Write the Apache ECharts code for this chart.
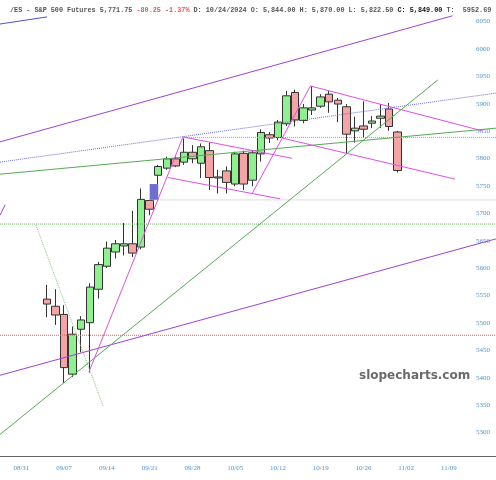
<!DOCTYPE html>
<html>
<head>
<meta charset="utf-8">
<script src="https://cdn.jsdelivr.net/npm/echarts@6/dist/echarts.min.js"></script>
<style>
html, body { margin: 0; padding: 0; background: #fff; }
#chart { width: 496px; height: 480px; }
</style>
</head>
<body>
<div id="chart"></div>
<script>
// trading-day slots on the x axis (weekdays)
var dates = [
    '08/28', '08/29', '08/30',
    '09/02', '09/03', '09/04', '09/05', '09/06', '09/09', '09/10', '09/11', '09/12', '09/13',
    '09/16', '09/17', '09/18', '09/19', '09/20', '09/23', '09/24', '09/25', '09/26', '09/27', '09/30',
    '10/01', '10/02', '10/03', '10/04', '10/07', '10/08', '10/09', '10/10', '10/11',
    '10/14', '10/15', '10/16', '10/17', '10/18', '10/21', '10/22', '10/23', '10/24', '10/25',
    '10/28', '10/29', '10/30', '10/31', '11/01',
    '11/04', '11/05', '11/06', '11/07', '11/08', '11/11', '11/12', '11/13', '11/14', '11/15'
];
// weekly labels, shown under each Friday slot
var weekLabels = ['08/31', '09/07', '09/14', '09/21', '09/28', '10/05', '10/12', '10/19', '10/26', '11/02', '11/09'];

var firstCandle = '09/04';
var opens  = [5537, 5524, 5509, 5400, 5482, 5494, 5555, 5597, 5623, 5634, 5638, 5632, 5717, 5763,
              5776, 5793, 5787, 5805, 5785, 5808, 5760, 5771, 5747, 5803, 5754, 5802, 5837, 5832,
              5857, 5914, 5863, 5882, 5889, 5911, 5900, 5888, 5844, 5853, 5858, 5867, 5884, 5842];
var highs  = [5563, 5555, 5526, 5487, 5506, 5566, 5605, 5642, 5645, 5676, 5698, 5739, 5718, 5782,
              5797, 5797, 5830, 5818, 5821, 5823, 5773, 5779, 5806, 5808, 5809, 5847, 5842, 5864,
              5917, 5919, 5893, 5926, 5911, 5917, 5904, 5893, 5870, 5898, 5871, 5893, 5895, 5844];
var lows   = [5504, 5490, 5384, 5395, 5440, 5403, 5538, 5594, 5611, 5617, 5614, 5628, 5690, 5747,
              5773, 5778, 5782, 5785, 5758, 5736, 5730, 5730, 5743, 5736, 5743, 5788, 5822, 5827,
              5853, 5852, 5858, 5873, 5886, 5877, 5860, 5802, 5822.5, 5831, 5849, 5849, 5844, 5768];
var closes = [5528, 5508, 5412, 5473, 5499, 5559, 5600, 5630, 5638, 5638, 5621, 5719, 5701, 5779,
              5793, 5780, 5805, 5793, 5815, 5759, 5758, 5750, 5802, 5747, 5804, 5841, 5831, 5860,
              5908, 5864, 5886, 5886, 5906, 5897, 5893, 5838, 5849, 5847, 5862, 5871, 5852, 5771.75];

var hoverDate = '10/24/2024';
var hoverIndex = 36;
var targetValue = '5952.69';

// roll gap box (slot index, price)
var gapBox = [[17, 5718], [18, 5747]];

// horizontal levels: [start slot, price]
var gapLevel = [17, 5718];
var peakLevel = [20.9, 5832];
var greenLevel = [-0.5, 5674];
var redLevel = [-0.5, 5471];

// drawn trend lines, endpoints as [slot, price]
var blueTop = [[-0.5, 6039], [5.0, 6052]];
var purpleUpper = [[-0.5, 5824], [52.4, 6054]];
var purpleLower = [[-0.5, 5398], [57.5, 5647]];
var purpleStub = [[-0.5, 5690], [0.1, 5709]];
var blueDotted = [[-0.5, 5787], [57.5, 5913]];
var greenFlat = [[-0.5, 5765], [57.5, 5849]];
var greenSteep = [[-0.5, 5290], [50.7, 5937]];
var greenDotted = [[3.7, 5672], [11.55, 5342]];
var magSteep1 = [[9.9, 5404], [20.9, 5833]];
var magUpper1 = [[20.9, 5833], [33.65, 5794]];
var magLower1 = [[19.1, 5759], [32.25, 5720]];
var magSteep2 = [[29.0, 5730], [35.8, 5926]];
var magUpper2 = [[35.8, 5926], [55.9, 5844]];
var magLower2 = [[32.5, 5831], [52.7, 5756]];

var lastSlot = dates.length - 0.5;
var start = dates.indexOf(firstCandle);
var candleData = dates.map(function (d, i) {
    var k = i - start;
    if (k < 0 || k >= opens.length) return '-';
    return [opens[k], closes[k], lows[k], highs[k]];
});

function fmt(v) {
    return v.toLocaleString('en-US', { minimumFractionDigits: 2, maximumFractionDigits: 2 });
}
var n = closes.length;
var last = closes[n - 1];
var chg = last - closes[n - 2];
var pct = chg / closes[n - 2] * 100;
var titleText =
    '{n|/ES - S&P 500 Futures ' + fmt(last) + ' }' +
    '{r|' + chg.toFixed(2) + ' ' + pct.toFixed(2) + '%}' +
    '{n| D: ' + hoverDate + ' O: ' + fmt(opens[hoverIndex]) + ' H: ' + fmt(highs[hoverIndex]) +
    ' L: ' + fmt(lows[hoverIndex]) + ' }' +
    '{b|C: ' + fmt(closes[hoverIndex]) + '}' +
    '{n| T:  ' + targetValue + '}';

function trend(points, color, type) {
    return {
        type: 'line',
        xAxisIndex: 1,
        data: points,
        symbol: 'none',
        silent: true,
        z: 5,
        lineStyle: { color: color, width: 1, type: type || 'solid' }
    };
}
function level(lv, color, type) {
    return trend([[lv[0], lv[1]], [lastSlot, lv[1]]], color, type);
}

var gapSeries = level(gapLevel, '#b8b8b8', 'dotted');
gapSeries.markArea = {
    silent: true,
    itemStyle: { color: '#6f6fd2' },
    data: [[{ coord: gapBox[0] }, { coord: gapBox[1] }]]
};

var chart = echarts.init(document.getElementById('chart'));
chart.setOption({
    animation: false,
    backgroundColor: '#fff',
    title: {
        text: titleText,
        left: 5,
        top: 2,
        textStyle: {
            fontFamily: 'Liberation Mono',
            fontSize: 6.8,
            rich: {
                n: { fontFamily: 'Liberation Mono', fontSize: 6.8, color: '#555' },
                r: { fontFamily: 'Liberation Mono', fontSize: 6.8, color: '#e05a5a' },
                b: { fontFamily: 'Liberation Mono', fontSize: 6.8, color: '#111', fontWeight: 'bold' }
            }
        }
    },
    graphic: [{
        type: 'text',
        left: 359,
        top: 370,
        style: {
            text: 'slopecharts.com',
            font: 'bold 12px "DejaVu Sans"',
            fill: '#6a6a6a'
        }
    }],
    grid: { left: 0, right: 0, top: 0, bottom: 23.6 },
    xAxis: [{
        type: 'category',
        data: dates,
        boundaryGap: true,
        axisLine: { lineStyle: { color: '#666', width: 1 } },
        axisTick: { show: false },
        splitLine: { show: false },
        axisLabel: {
            interval: function (i) { return i % 5 === 2; },
            formatter: function (v, i) { return weekLabels[(i - 2) / 5]; },
            color: '#4f94cd',
            fontFamily: 'Liberation Serif',
            fontSize: 7,
            margin: 8
        }
    }, {
        type: 'value',
        min: -0.5,
        max: lastSlot,
        show: false
    }],
    yAxis: {
        type: 'value',
        position: 'right',
        min: 5250,
        max: 6082.85,
        interval: 50,
        axisLine: { show: false },
        axisTick: { show: false },
        splitLine: { show: false },
        axisLabel: {
            inside: true,
            margin: 6,
            color: '#4f94cd',
            fontFamily: 'Liberation Serif',
            fontSize: 7,
            verticalAlign: 'top',
            showMinLabel: false,
            showMaxLabel: false,
            formatter: function (v) { return String(v); }
        }
    },
    series: [
        {
            type: 'candlestick',
            data: candleData,
            barWidth: 8,
            z: 3,
            itemStyle: {
                color: '#8ff08f',
                color0: '#f4a4a4',
                borderColor: '#333',
                borderColor0: '#333',
                borderWidth: 1
            }
        },
        gapSeries,
        level(peakLevel, '#99a3d6', 'dotted'),
        level(greenLevel, '#66bb66', 'dotted'),
        level(redLevel, '#e06060', 'dotted'),
        trend(blueTop, '#5050d0'),
        trend(purpleUpper, '#a040d8'),
        trend(purpleLower, '#a040d8'),
        trend(purpleStub, '#a040d8'),
        trend(blueDotted, '#6a6ad8', 'dotted'),
        trend(greenFlat, '#55aa55'),
        trend(greenSteep, '#55aa55'),
        trend(greenDotted, '#88c088', 'dotted'),
        trend(magSteep1, '#e050e0'),
        trend(magUpper1, '#e050e0'),
        trend(magLower1, '#e050e0'),
        trend(magSteep2, '#e050e0'),
        trend(magUpper2, '#e050e0'),
        trend(magLower2, '#e050e0')
    ]
});
</script>
</body>
</html>
